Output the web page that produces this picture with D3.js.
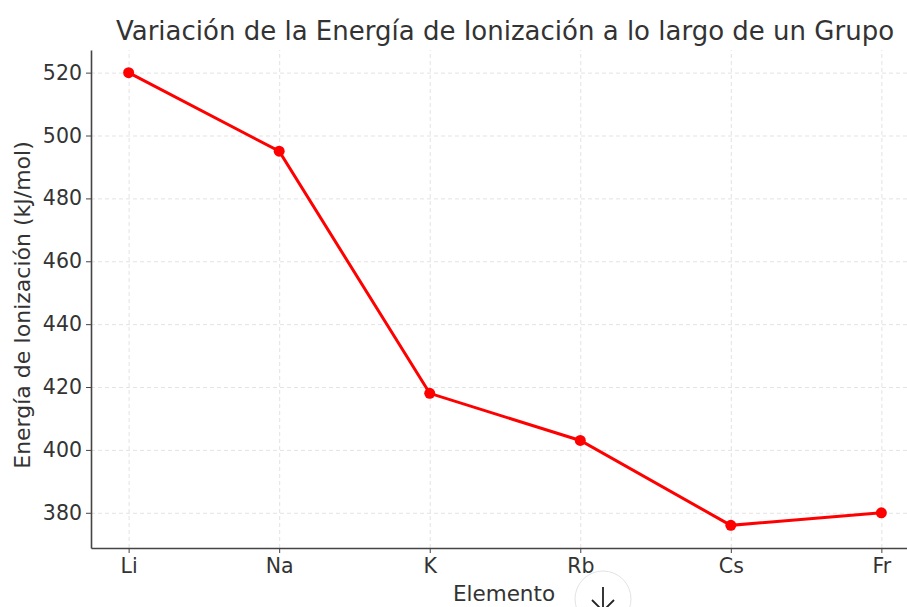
<!DOCTYPE html>
<html>
<head>
<meta charset="utf-8">
<script src="https://cdn.jsdelivr.net/npm/d3@7"></script>
<style>
  body { margin: 0; background: #fff; }
  svg { display: block; font-family: "DejaVu Sans", sans-serif; }
  .grid line { stroke: #dcdcdc; stroke-dasharray: 4,3; stroke-width: 0.8; }
  .grid path { display: none; }
  .axis path, .axis line { stroke: #444; }
  .axis text { fill: #333; font-size: 20.5px; font-family: "DejaVu Sans", sans-serif; }
</style>
</head>
<body>
<svg id="chart" width="907" height="607"></svg>
<script>
// data
var elements = ['Li', 'Na', 'K', 'Rb', 'Cs', 'Fr'];
var energy = [520, 495, 418, 403, 376, 380];
var yTicks = [380, 400, 420, 440, 460, 480, 500, 520];

var svg = d3.select('#chart');
var margin = {left: 91, top: 50, right: -12, bottom: 59};
var w = 907 - margin.left - margin.right;
var h = 607 - margin.top - margin.bottom;

var x = d3.scaleLinear().domain([-0.25, elements.length - 0.75]).range([0, w]);
var yMin = d3.min(energy), yMax = d3.max(energy), pad = (yMax - yMin) * 0.05;
var y = d3.scaleLinear().domain([yMin - pad, yMax + pad]).range([h, 0]);

var g = svg.append('g').attr('transform', 'translate(' + margin.left + ',' + margin.top + ')');

// grid
g.append('g').attr('class', 'grid')
    .call(d3.axisLeft(y).tickValues(yTicks).tickSize(-w).tickFormat(''));
g.append('g').attr('class', 'grid').attr('transform', 'translate(0,' + h + ')')
    .call(d3.axisBottom(x).tickValues(d3.range(elements.length)).tickSize(-h).tickFormat(''));

// axes
var yAxis = g.append('g').attr('class', 'axis')
    .call(d3.axisLeft(y).tickValues(yTicks).tickSizeInner(5).tickSizeOuter(0).tickPadding(4));
yAxis.select('.domain').attr('stroke-width', 1.6);

var xAxis = g.append('g').attr('class', 'axis').attr('transform', 'translate(0,' + h + ')')
    .call(d3.axisBottom(x).tickValues(d3.range(elements.length)).tickSizeInner(5).tickSizeOuter(0).tickPadding(5)
        .tickFormat(function (i) { return elements[i]; }));
xAxis.select('.domain').attr('stroke-width', 1.6);

// line + points
var line = d3.line()
    .x(function (d, i) { return x(i); })
    .y(function (d) { return y(d); });

g.append('path').datum(energy)
    .attr('d', line)
    .attr('fill', 'none')
    .attr('stroke', '#ff0000')
    .attr('stroke-width', 3);

g.selectAll('circle.pt').data(energy).enter().append('circle')
    .attr('class', 'pt')
    .attr('cx', function (d, i) { return x(i); })
    .attr('cy', function (d) { return y(d); })
    .attr('r', 5.5)
    .attr('fill', '#ff0000');

// labels
svg.append('text').attr('x', 505).attr('y', 40).attr('text-anchor', 'middle')
    .attr('font-size', 26).attr('fill', '#333')
    .text('Variación de la Energía de Ionización a lo largo de un Grupo');

svg.append('text').attr('x', 504).attr('y', 601).attr('text-anchor', 'middle')
    .attr('font-size', 21.5).attr('fill', '#333')
    .text('Elemento');

svg.append('text').attr('transform', 'translate(30,305) rotate(-90)').attr('text-anchor', 'middle')
    .attr('font-size', 22).attr('fill', '#333')
    .text('Energía de Ionización (kJ/mol)');

// download button overlay
var btn = svg.append('g').attr('transform', 'translate(603,599)');
btn.append('circle').attr('r', 28).attr('fill', '#fff').attr('stroke', '#e3e3e3');
btn.append('path').attr('d', 'M0,-12 L0,12 M-11,1 L0,12 L11,1')
    .attr('fill', 'none').attr('stroke', '#222').attr('stroke-width', 1.8);
</script>
</body>
</html>
